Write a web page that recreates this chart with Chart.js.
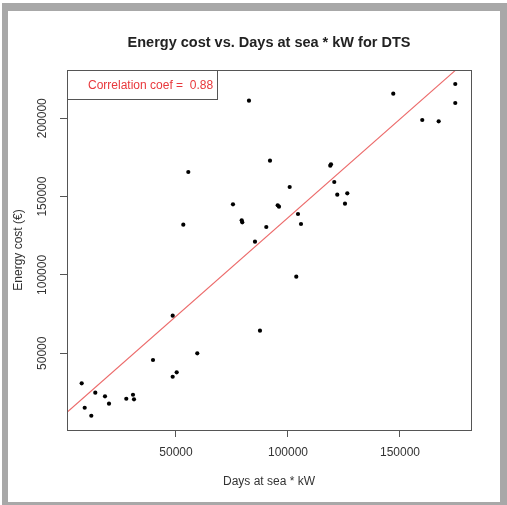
<!DOCTYPE html>
<html>
<head>
<meta charset="utf-8">
<script src="https://cdn.jsdelivr.net/npm/chart.js@4"></script>
<style>
  body { margin: 0; background: #fff; }
  #frame { position: absolute; left: 2px; top: 3px; width: 505px; height: 502px; background: #a8a8a8; }
  #page { position: absolute; left: 6px; top: 8px; width: 492px; height: 491px; background: #fff; }
</style>
</head>
<body>
<div id="frame"><div id="page"><canvas id="myChart"></canvas></div></div>
<script>
"use strict";

// Days at sea * kW for each vessel
let daysKw = [7900, 9240, 12190, 13970, 18300, 20090, 27810, 30800, 31250, 39730,
  48520, 48520, 50310, 53260, 55490, 59500, 75440, 79330, 79590, 82580,
  85260, 87490, 90310, 91960, 95400, 95980, 100750, 103700, 104460, 105800,
  118880, 119190, 120660, 122000, 125440, 126470, 147000, 159940, 167270, 174680,
  174680];

// Energy cost (€) for each vessel
let energyCost = [30800, 15250, 10150, 24830, 22530, 17810, 21000, 23550, 20620, 45700,
  73980, 35040, 37850, 132060, 165700, 49980, 145090, 134870, 133600, 211210,
  121210, 64400, 130600, 172910, 144450, 143550, 156130, 98870, 138890, 132510,
  169720, 170620, 159320, 151210, 145470, 152110, 215680, 198900, 198070, 221870,
  209750];

// intercept and slope of the fitted line
let fitCoef = [10650, 1.2588];
let corrText = "Correlation coef =  0.88";
let titleText = "Energy cost vs. Days at sea * kW for DTS";

// tick labels
let xTicks = [50000, 100000, 150000];
let yTicks = [50000, 100000, 150000, 200000];

let xRange = [1340, 181700];
let yRange = [1040, 230800];

let FONT = "'Liberation Sans', Arial, sans-serif";

let points = daysKw.map((x, i) => ({ x: x, y: energyCost[i] }));
let fitPoints = xRange.map(x => ({ x: x, y: fitCoef[0] + fitCoef[1] * x }));

// title over the plot, box round it, rotated y labels and the legend box, R style
const rDecor = {
  id: "rDecor",
  afterDraw(chart) {
    const ctx = chart.ctx;
    const a = chart.chartArea;
    const yScale = chart.scales.y;
    ctx.save();

    ctx.fillStyle = "#222";
    ctx.font = "bold 14.5px " + FONT;
    ctx.textAlign = "center";
    ctx.textBaseline = "middle";
    ctx.fillText(titleText, (a.left + a.right) / 2, 32);

    ctx.strokeStyle = "#555";
    ctx.lineWidth = 1;
    ctx.strokeRect(a.left + 0.5, a.top + 0.5, a.right - a.left, a.bottom - a.top);

    // y tick labels, parallel to the axis
    ctx.fillStyle = "#333";
    ctx.font = "12px " + FONT;
    yTicks.forEach(v => {
      ctx.save();
      ctx.translate(a.left - 24, yScale.getPixelForValue(v));
      ctx.rotate(-Math.PI / 2);
      ctx.fillText(String(v), 0, 0);
      ctx.restore();
    });

    // legend box top left
    ctx.strokeRect(a.left + 0.5, a.top + 0.5, 150, 29);
    ctx.fillStyle = "#e8383c";
    ctx.textAlign = "left";
    ctx.fillText(corrText, a.left + 21, a.top + 16);
    ctx.restore();
  }
};

const config = {
  type: "scatter",
  data: {
    datasets: [
      {
        label: "fit",
        type: "line",
        data: fitPoints,
        borderColor: "#ec6a6a",
        borderWidth: 1.1,
        pointRadius: 0,
        fill: false,
        order: 2
      },
      {
        label: "vessels",
        data: points,
        backgroundColor: "#000",
        borderColor: "#000",
        pointRadius: 2.1,
        pointBorderWidth: 0,
        order: 1
      }
    ]
  },
  options: {
    animation: false,
    responsive: true,
    maintainAspectRatio: false,
    layout: { padding: { left: 0, right: 29, top: 59, bottom: 0 } },
    plugins: {
      legend: { display: false },
      tooltip: { enabled: false },
      title: { display: false }
    },
    scales: {
      x: {
        type: "linear",
        min: xRange[0],
        max: xRange[1],
        afterBuildTicks: s => { s.ticks = xTicks.map(v => ({ value: v })); },
        afterFit: s => { s.height = 72; },
        grid: { drawOnChartArea: false, drawTicks: true, tickLength: 7, color: "#555" },
        border: { display: true, color: "#555" },
        ticks: { color: "#333", font: { family: FONT, size: 12 }, padding: 8, callback: v => String(v) },
        title: {
          display: true,
          text: "Days at sea * kW",
          color: "#333",
          font: { family: FONT, size: 12 },
          padding: { top: 0, bottom: 13 }
        }
      },
      y: {
        type: "linear",
        min: yRange[0],
        max: yRange[1],
        afterBuildTicks: s => { s.ticks = yTicks.map(v => ({ value: v })); },
        afterFit: s => { s.width = 59; },
        grid: { drawOnChartArea: false, drawTicks: true, tickLength: 7, color: "#555" },
        border: { display: true, color: "#555" },
        ticks: { display: false },
        title: {
          display: true,
          text: "Energy cost (€)",
          color: "#333",
          font: { family: FONT, size: 12 },
          padding: { top: 3, bottom: 0 }
        }
      }
    }
  },
  plugins: [rDecor]
};

new Chart(document.getElementById("myChart"), config);
</script>
</body>
</html>
